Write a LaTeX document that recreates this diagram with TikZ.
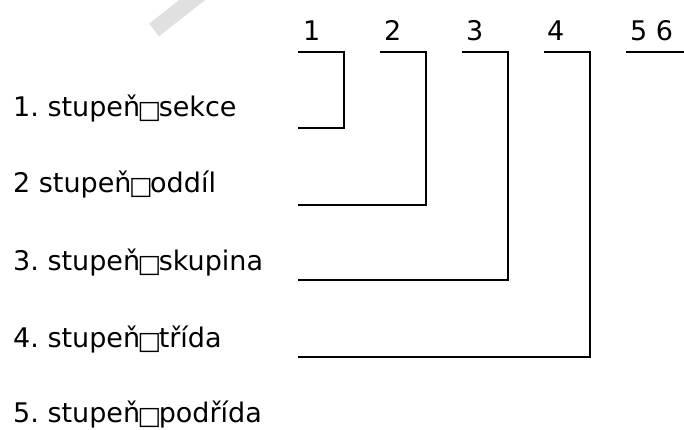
\documentclass[tikz,border=0pt]{standalone}
\usepackage{fontspec}
\setmainfont{DejaVu Sans}
\frenchspacing
\newcommand{\tofu}{\hspace{-2.5pt}\raisebox{-2pt}{\fontsize{25}{25}\selectfont □}\hspace{-2.5pt}}
\tikzset{
    lbl/.style={anchor=base west, inner sep=0pt, font=\fontsize{27}{32}\selectfont},
    num/.style={anchor=base west, inner sep=0pt, font=\fontsize{27}{32}\selectfont},
    bar/.style={line width=2.4pt}
}
\begin{document}
\begin{tikzpicture}[x=1pt, y=-1pt]
        \useasboundingbox (0, 0) rectangle (684, 430);
        \draw[black!12, line width=16pt] (154, 30) -- (205, -10);
        % left labels
        \node[lbl] (s1) at (13, 117) {1. stupeň\tofu sekce};
        \node[lbl] (s2) at (13, 193) {2 stupeň\tofu oddíl};
        \node[lbl] (s3) at (13, 270) {3. stupeň\tofu skupina};
        \node[lbl] (s4) at (13, 347) {4. stupeň\tofu třída};
        \node[lbl] (s5) at (13, 422) {5. stupeň\tofu podřída};
        % top numbers
        \node[num] (n1) at (303, 41) {1};
        \node[num] (n2) at (384, 41) {2};
        \node[num] (n3) at (466, 41) {3};
        \node[num] (n4) at (547, 41) {4};
        \node[num] (n5) at (630, 41) {5 6};
        % bars
        \coordinate (t1) at (298, 52);
        \coordinate (t2) at (380, 52);
        \coordinate (t3) at (462, 52);
        \coordinate (t4) at (544, 52);
        \coordinate (t5) at (626, 52);
        \coordinate (e5) at (684, 52);
        \coordinate (b1) at (298, 128);
        \coordinate (b2) at (298, 205);
        \coordinate (b3) at (298, 280);
        \coordinate (b4) at (298, 357);
        \draw[bar] (t1) -- (344, 52) |- (b1);
        \draw[bar] (t2) -- (426, 52) |- (b2);
        \draw[bar] (t3) -- (508, 52) |- (b3);
        \draw[bar] (t4) -- (590, 52) |- (b4);
        \draw[bar] (t5) -- (e5);
    \end{tikzpicture}
\end{document}
